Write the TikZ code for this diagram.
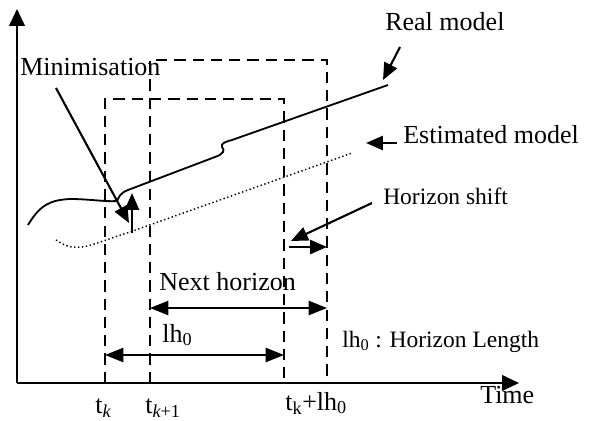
\documentclass[tikz,border=0pt]{standalone}
\usepackage{fontspec}
\setmainfont{Liberation Serif}
\usetikzlibrary{arrows.meta,calc}

\begin{document}
\begin{tikzpicture}[x=0.025cm,y=-0.025cm,
  big/.style={font=\fontsize{18.5}{22}\selectfont, inner sep=0pt},
  small/.style={font=\fontsize{16.7}{20}\selectfont, inner sep=0pt},
  window/.style={dash pattern=on 8pt off 5pt, line width=1.1pt},
  model/.style={line width=1.3pt},
  estim/.style={line width=1pt, dash pattern=on 1pt off 1.8pt},
  pointer/.style={line width=1.5pt, -{Triangle[length=12pt,width=10pt]}},
  span/.style={line width=1.5pt, {Triangle[length=13pt,width=10pt]}-{Triangle[length=13pt,width=10pt]}}]
  \useasboundingbox (0,0) rectangle (608,421);

  % axes
  \coordinate (O) at (17,383);
  \coordinate (Ytop) at (17,9);
  \coordinate (Xend) at (519,383);
  \draw[line width=1.6pt, -{Triangle[length=12pt,width=11pt]}] (O) -- (Ytop);
  \draw[line width=1.6pt, -{Triangle[length=12pt,width=11pt]}] (O) -- (Xend);

  % time instants on the axis
  \coordinate (tk) at (105,383);
  \coordinate (tk1) at (150,383);
  \coordinate (tkl) at (284,383);
  \coordinate (tk1l) at (327,383);

  % the two horizons
  \draw[window] (tk) -- (105,99) -- (284,99) -- (tkl);
  \draw[window] (tk1) -- (150,60) -- (327,60) -- (tk1l);

  % real and estimated model
  \draw[model] (28,225) .. controls (40,205) and (50,200) .. (70,199)
    .. controls (90,199) and (105,202) .. (117,201)
    .. controls (119,197) and (120,193) .. (128,190) -- (215,157)
    .. controls (224,154) and (225,150) .. (222,147)
    .. controls (221,143) and (225,142) .. (232,140) -- (388,85);
  \draw[estim] (56,240) .. controls (65,246) and (70,248) .. (82,247)
    .. controls (95,245) and (110,238) .. (130,232) -- (352,153);

  % labels
  \node[big, anchor=base west] (real) at (385,30) {Real model};
  \node[big, anchor=base west] (mini) at (20,75) {Minimisation};
  \node[big, anchor=base west] (estimated) at (403,144) {Estimated model};
  \node[small, anchor=base west] (shift) at (383,204) {Horizon shift};
  \node[big, anchor=base west] (next) at (159,290) {Next horizon};
  \node[big, anchor=base west] (lh) at (162,342) {lh\textsubscript{0}};
  \node[small, anchor=base west] (legend) at (342,347) {lh\textsubscript{0} : Horizon Length};
  \node[big, anchor=base west] (time) at (480,403) {Time};
  \node[big, anchor=base west] (ltk) at (95,413) {t\textsubscript{\itshape k}};
  \node[big, anchor=base west] (ltk1) at (145,413) {t\textsubscript{\itshape k\upshape +1}};
  \node[big, anchor=base west] (ltkl) at (285,410) {t\textsubscript{k}+lh\textsubscript{0}};

  % pointers
  \coordinate (miniA) at (56,88);
  \coordinate (miniB) at (129,223);
  \draw[pointer] (miniA) -- (miniB);
  \coordinate (errA) at (132,233);
  \coordinate (errB) at (132,193);
  \draw[pointer] (errA) -- (errB);
  \coordinate (realA) at (400,47);
  \coordinate (realB) at (383,80);
  \draw[pointer] (realA) -- (realB);
  \coordinate (estA) at (397,143);
  \coordinate (estB) at (366,143);
  \draw[pointer] (estA) -- (estB);
  \coordinate (shiftA) at (372,203);
  \coordinate (shiftB) at (291,241);
  \draw[pointer] (shiftA) -- (shiftB);
  \coordinate (moveA) at (289,247);
  \draw[pointer] (moveA) -- (tk1l |- moveA);

  % horizon lengths
  \draw[span] (tk1 |- 0,308) -- (tk1l |- 0,308);
  \draw[span] (tk |- 0,355) -- (tkl |- 0,355);
\end{tikzpicture}
\end{document}
